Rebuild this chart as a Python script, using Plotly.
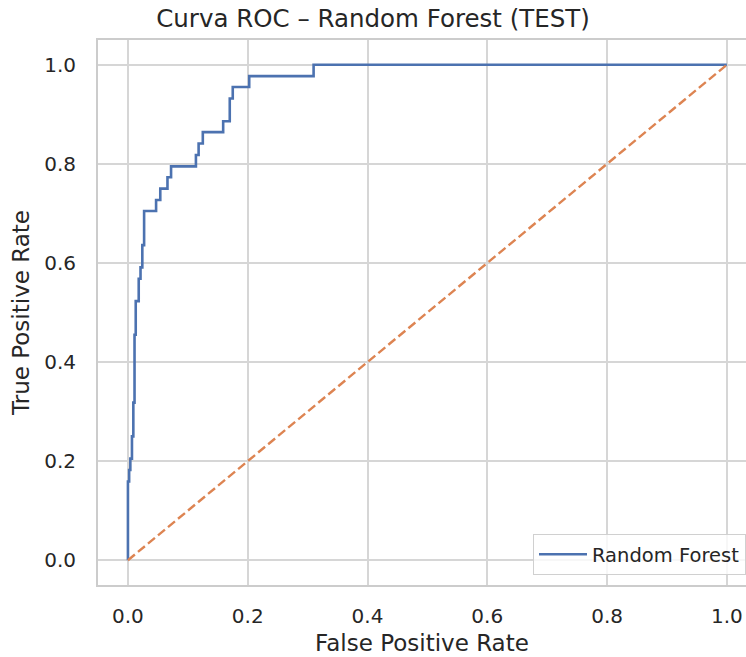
import plotly.graph_objects as go

# ROC curve corner points
fpr = [0.000, 0.000, 0.002, 0.002, 0.004, 0.004, 0.0067, 0.0067, 0.009, 0.009,
       0.011, 0.011, 0.013, 0.013, 0.018, 0.018, 0.021, 0.021, 0.024, 0.024,
       0.027, 0.027, 0.047, 0.047, 0.054, 0.054, 0.066, 0.066, 0.072, 0.072,
       0.1135, 0.1135, 0.118, 0.118, 0.125, 0.125, 0.159, 0.159, 0.170, 0.170,
       0.175, 0.175, 0.2025, 0.2025, 0.310, 0.310, 1.000]
tpr = [0.000, 0.159, 0.159, 0.182, 0.182, 0.205, 0.205, 0.250, 0.250, 0.318,
       0.318, 0.455, 0.455, 0.523, 0.523, 0.568, 0.568, 0.591, 0.591, 0.636,
       0.636, 0.705, 0.705, 0.727, 0.727, 0.750, 0.750, 0.773, 0.773, 0.795,
       0.795, 0.818, 0.818, 0.841, 0.841, 0.864, 0.864, 0.886, 0.886, 0.932,
       0.932, 0.955, 0.955, 0.977, 0.977, 1.000, 1.000]

diag_x = [0.0, 1.0]
diag_y = [0.0, 1.0]

tick_vals = [0.0, 0.2, 0.4, 0.6, 0.8, 1.0]
tick_text = ["0.0", "0.2", "0.4", "0.6", "0.8", "1.0"]

FONT = "DejaVu Sans"
TXT = "#262626"
GRID = "#d6d6d6"
SPINE = "#cccccc"

fig = go.Figure()
fig.add_trace(go.Scatter(x=fpr, y=tpr, mode="lines", name="Random Forest",
                         line=dict(color="#4c72b0", width=2.6)))
fig.add_trace(go.Scatter(x=diag_x, y=diag_y, mode="lines", showlegend=False,
                         line=dict(color="#dd8452", width=2.4, dash="9px,4px")))

fig.update_layout(
    width=746, height=657,
    margin=dict(l=98, r=0, t=40, b=72),
    paper_bgcolor="white", plot_bgcolor="white",
    font=dict(family=FONT, color=TXT, size=20),
    title=dict(text="Curva ROC – Random Forest (TEST)", x=0.5, xanchor="center",
               y=1 - 18 / 657, yanchor="middle", yref="container",
               font=dict(size=24.5, color=TXT, family=FONT)),
    legend=dict(x=1.0, xanchor="right", y=10 / 545, yanchor="bottom",
                bgcolor="rgba(255,255,255,0.8)", bordercolor="#d0d0d0", borderwidth=1,
                itemwidth=48,
                font=dict(size=19.5, color=TXT, family=FONT)),
    showlegend=True,
)
fig.update_xaxes(range=[-0.05, 1.032], tickvals=tick_vals, ticktext=tick_text,
                 showgrid=True, gridcolor=GRID, gridwidth=1.5, zeroline=False,
                 showline=True, linecolor=SPINE, linewidth=2, mirror=True,
                 ticks="", ticklabelstandoff=12, tickfont=dict(size=20, color=TXT),
                 title=dict(text="False Positive Rate", font=dict(size=23, color=TXT), standoff=8))
fig.update_yaxes(range=[-0.05, 1.05], tickvals=tick_vals, ticktext=tick_text,
                 showgrid=True, gridcolor=GRID, gridwidth=1.5, zeroline=False,
                 showline=True, linecolor=SPINE, linewidth=2, mirror=False,
                 ticks="", ticklabelstandoff=16, tickfont=dict(size=20, color=TXT),
                 title=dict(text="True Positive Rate", font=dict(size=23, color=TXT), standoff=8))

fig.write_html("out.html")
